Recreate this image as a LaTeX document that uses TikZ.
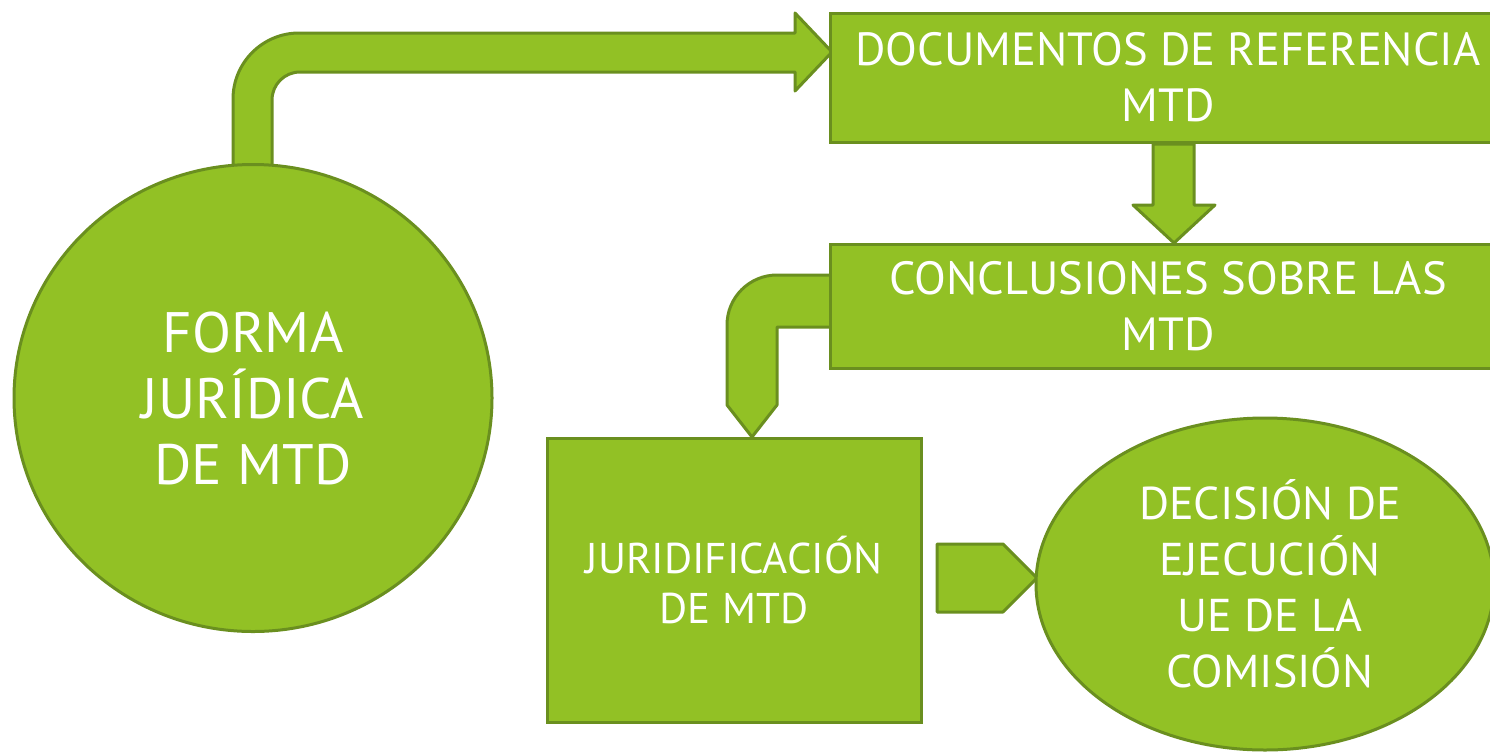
\documentclass[tikz,border=0pt]{standalone}
\usepackage{fontspec}
\setmainfont{PT Sans}
\usetikzlibrary{shapes.geometric, backgrounds}
\definecolor{leaf}{HTML}{92C125}
\definecolor{leafline}{HTML}{6A8F1F}
\tikzset{
    greenbox/.style={draw=leafline, fill=leaf, line width=3pt, text=white, align=center, inner sep=0pt},
    fatarrow/.style={draw=leafline, fill=leaf, line width=3pt, line join=round}
}

\begin{document}
\begin{tikzpicture}[x=1pt, y=-1pt]
    \useasboundingbox (0,0) rectangle (1490,753);

    \node[greenbox, ellipse, minimum width=478pt, minimum height=467pt,
        font=\fontsize{57}{66}\selectfont] (forma) at (253,398) {FORMA\\JURÍDICA\\DE MTD};
    \node[greenbox, rectangle, minimum width=676pt, minimum height=129pt,
        font=\fontsize{46.5}{56}\selectfont] (docs) at (1168,77.5) {DOCUMENTOS DE REFERENCIA\\MTD};
    \node[greenbox, rectangle, minimum width=676pt, minimum height=124pt,
        font=\fontsize{46.5}{56}\selectfont] (concl) at (1168,306) {CONCLUSIONES SOBRE LAS\\MTD};
    \node[greenbox, rectangle, minimum width=374pt, minimum height=284pt,
        font=\fontsize{43}{50}\selectfont] (jurid) at (734,580) {JURIDIFICACIÓN\\DE MTD};
    \node[greenbox, ellipse, minimum width=458pt, minimum height=332pt,
        font=\fontsize{46}{56}\selectfont] (decis) at (1265,584) {\hspace*{10pt}DECISIÓN DE\\\hspace*{10pt}EJECUCIÓN\\\hspace*{10pt}UE DE LA\\\hspace*{10pt}COMISIÓN};

    \begin{scope}[on background layer]
    % forma -> docs
    \draw[fatarrow] (233,170) -- (233,99) .. controls (233,62.6) and (262.6,33) .. (299,33)
        -- (795,33) -- (795,13) -- (832,52) -- (795,91) -- (795,72) -- (300,72)
        .. controls (284.5,72) and (272,84.5) .. (272,100) -- (272,170) -- cycle;
    % docs -> concl
    \draw[fatarrow] (1153,144) -- (1194,144) -- (1194,205) -- (1215,205) -- (1174,243)
        -- (1133,205) -- (1153,205) -- cycle;
    % concl -> jurid
    \draw[fatarrow] (832,275) -- (777,275) .. controls (749.4,275) and (727,297.4) .. (727,325)
        -- (727,405) -- (752,437) -- (777,405) -- (777,327) -- (832,327) -- cycle;
    % jurid -> decis
    \draw[fatarrow] (937,544) -- (1003,544) -- (1037,578) -- (1003,612) -- (937,612) -- cycle;
    \end{scope}
\end{tikzpicture}
\end{document}
